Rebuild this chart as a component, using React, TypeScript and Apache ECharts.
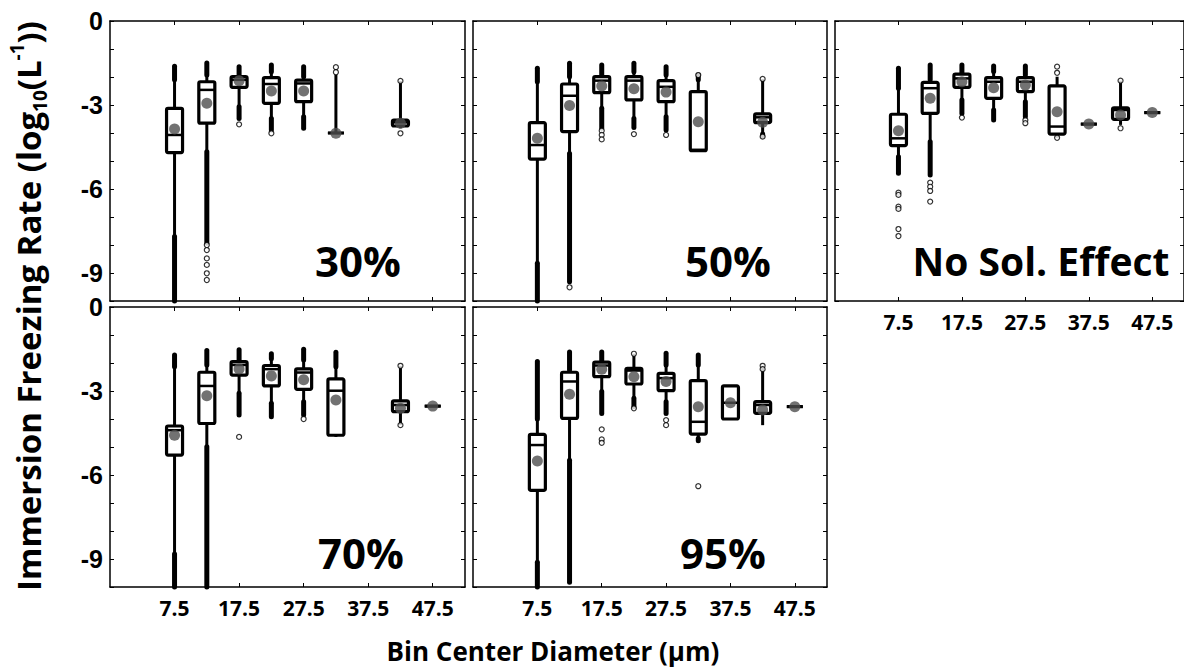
import React, { useEffect, useRef } from 'react';
import * as echarts from 'echarts';

// ---------- data ----------
const bins = [7.5, 12.5, 17.5, 22.5, 27.5, 32.5, 37.5, 42.5, 47.5];
const xTickLabels = [7.5, 17.5, 27.5, 37.5, 47.5];
const yTickLabels = [0, -3, -6, -9];
const panelLabels = ['30%', '50%', 'No Sol. Effect', '70%', '95%'];

// box stats per bin: [low whisker, q1, median, q3, high whisker] (null = no data)
const box30 = [
  [-7.7, -4.7, -4.07, -3.12, -2.1],
  [-4.67, -3.65, -2.46, -2.17, -1.93],
  [-3.06, -2.37, -2.1, -1.99, -1.99],
  [-3.48, -2.94, -2.25, -2.02, -1.81],
  [-3.42, -2.88, -2.23, -2.11, -1.99],
  [-4.02, -4.0, -4.0, -4.0, -1.9],
  null,
  [-3.83, -3.75, -3.62, -3.54, -2.14],
  null,
];
const mean30 = [-3.86, -2.94, -2.13, -2.5, -2.5, -4.01, null, -3.65, null];
const band30 = [
  [7.5, -10, -7.7], [7.5, -2.1, -1.62],
  [12.5, -7.94, -4.67], [12.5, -1.93, -1.5],
  [17.5, -3.48, -3.06], [17.5, -1.99, -1.63],
  [22.5, -3.89, -3.48], [22.5, -1.81, -1.57],
  [27.5, -3.83, -3.42], [27.5, -1.99, -1.63],
];
const outlier30 = [
  [12.5, -8.0], [12.5, -8.18], [12.5, -8.48], [12.5, -8.71], [12.5, -9.01], [12.5, -9.25],
  [17.5, -3.69], [22.5, -4.01], [32.5, -1.65], [32.5, -1.83], [42.5, -2.14], [42.5, -4.01],
];

const box50 = [
  [-8.65, -4.93, -4.43, -3.63, -2.17],
  [-4.73, -3.95, -2.67, -2.25, -1.99],
  [-3.12, -2.56, -2.13, -1.99, -1.93],
  [-3.48, -2.82, -2.13, -1.99, -1.81],
  [-3.42, -2.88, -2.35, -2.13, -1.93],
  [-4.67, -4.63, -4.6, -2.52, -1.93],
  null,
  [-4.04, -3.63, -3.44, -3.32, -2.07],
  null,
];
const mean50 = [-4.19, -3.02, -2.32, -2.42, -2.54, -3.6, null, -3.62, null];
const band50 = [
  [7.5, -10, -8.65], [7.5, -2.17, -1.69],
  [12.5, -9.31, -4.73], [12.5, -1.99, -1.51],
  [17.5, -3.83, -3.12], [17.5, -1.93, -1.57],
  [22.5, -3.8, -3.48], [22.5, -1.81, -1.51],
  [27.5, -3.89, -3.42], [27.5, -1.93, -1.63],
  [32.5, -2.1, -1.93],
  [42.5, -4.12, -4.04],
];
const outlier50 = [
  [12.5, -9.51], [17.5, -3.92], [17.5, -4.07], [17.5, -4.23], [22.5, -4.04], [27.5, -4.07],
  [32.5, -1.93], [42.5, -2.07], [42.5, -4.13],
];

const boxNoSol = [
  [-4.85, -4.45, -4.19, -3.33, -2.4],
  [-4.31, -3.3, -2.4, -2.19, -2.1],
  [-2.82, -2.37, -2.05, -1.9, -1.87],
  [-3.18, -2.76, -2.17, -2.02, -1.61],
  [-2.88, -2.52, -2.17, -2.02, -1.93],
  [-4.17, -4.04, -3.77, -2.32, -1.99],
  [-3.68, -3.68, -3.68, -3.68, -3.68],
  [-3.71, -3.51, -3.18, -3.1, -2.13],
  [-3.27, -3.27, -3.27, -3.27, -3.27],
];
const meanNoSol = [-3.92, -2.76, -2.17, -2.38, -2.29, -3.24, -3.68, -3.36, -3.27];
const bandNoSol = [
  [7.5, -5.44, -4.85], [7.5, -2.4, -1.69],
  [12.5, -5.5, -4.31], [12.5, -2.1, -1.57],
  [17.5, -3.3, -2.82], [17.5, -1.87, -1.57],
  [22.5, -3.54, -3.18], [22.5, -1.8, -1.61],
  [27.5, -3.42, -2.88], [27.5, -1.93, -1.61],
];
const outlierNoSol = [
  [7.5, -6.13], [7.5, -6.21], [7.5, -6.63], [7.5, -6.71], [7.5, -7.43], [7.5, -7.68],
  [12.5, -5.77], [12.5, -5.92], [12.5, -6.07], [12.5, -6.45],
  [17.5, -3.45], [27.5, -3.54], [27.5, -3.65],
  [32.5, -1.63], [32.5, -1.85], [32.5, -4.17], [42.5, -2.13], [42.5, -3.83],
];

const box70 = [
  [-8.82, -5.29, -4.4, -4.25, -2.13],
  [-4.99, -4.16, -2.82, -2.33, -2.07],
  [-3.08, -2.43, -2.07, -1.95, -1.89],
  [-3.44, -2.82, -2.22, -2.09, -1.67],
  [-3.38, -2.94, -2.34, -2.21, -1.89],
  [-4.64, -4.58, -2.99, -2.57, -2.13],
  null,
  [-4.22, -3.74, -3.5, -3.35, -2.1],
  [-3.54, -3.54, -3.54, -3.54, -3.54],
];
const mean70 = [-4.58, -3.17, -2.21, -2.46, -2.6, -3.32, null, -3.62, -3.54];
const band70 = [
  [7.5, -10, -8.82], [7.5, -2.13, -1.71],
  [12.5, -10, -4.99], [12.5, -2.07, -1.55],
  [17.5, -3.86, -3.08], [17.5, -1.89, -1.53],
  [22.5, -3.92, -3.44], [22.5, -1.85, -1.67],
  [27.5, -3.86, -3.38], [27.5, -1.89, -1.51],
  [32.5, -2.13, -1.62],
];
const outlier70 = [[17.5, -4.64], [27.5, -4.0], [42.5, -2.1], [42.5, -4.22]];

const box95 = [
  [-9.12, -6.55, -4.93, -4.55, -4.0],
  [-5.47, -3.98, -2.66, -2.33, -2.25],
  [-3.02, -2.49, -2.09, -1.97, -1.95],
  [-3.26, -2.75, -2.27, -2.19, -1.67],
  [-3.38, -2.99, -2.54, -2.37, -2.07],
  [-4.7, -4.54, -4.1, -2.63, -2.07],
  [-4.0, -4.0, -3.42, -2.82, -2.82],
  [-4.22, -3.8, -3.5, -3.38, -2.1],
  [-3.56, -3.56, -3.56, -3.56, -3.56],
];
const mean95 = [-5.5, -3.12, -2.22, -2.49, -2.66, -3.56, -3.42, -3.68, -3.56];
const band95 = [
  [7.5, -10, -9.12], [7.5, -4.0, -1.95],
  [12.5, -9.83, -5.47], [12.5, -2.25, -1.61],
  [17.5, -3.8, -3.02], [17.5, -1.95, -1.61],
  [22.5, -3.56, -3.26],
  [27.5, -3.8, -3.38], [27.5, -2.07, -1.65],
  [32.5, -2.07, -1.71], [32.5, -4.78, -4.7],
];
const outlier95 = [
  [17.5, -4.37], [17.5, -4.73], [17.5, -4.85], [22.5, -1.67], [22.5, -3.62],
  [27.5, -4.04], [27.5, -4.22], [32.5, -6.4], [42.5, -2.1], [42.5, -2.22],
];

const panelBoxes = [box30, box50, boxNoSol, box70, box95];
const panelMeans = [mean30, mean50, meanNoSol, mean70, mean95];
const panelBands = [band30, band50, bandNoSol, band70, band95];
const panelOutliers = [outlier30, outlier50, outlierNoSol, outlier70, outlier95];

// ---------- layout ----------
const grids = [
  { left: 110, top: 21, width: 355, height: 280 },
  { left: 473, top: 21, width: 354, height: 280 },
  { left: 835, top: 21, width: 355, height: 280 },
  { left: 110, top: 307, width: 355, height: 280 },
  { left: 473, top: 307, width: 354, height: 280 },
];
const showYLabels = [true, false, false, true, false];
const showXLabels = [false, false, true, true, true];
const labelPos = [
  { x: 358, y: 260, size: 42 },
  { x: 728, y: 260, size: 42 },
  { x: 1041, y: 260, size: 39 },
  { x: 361, y: 552, size: 42 },
  { x: 723, y: 552, size: 42 },
];

const SANS = '"Open Sans", "Noto Sans", sans-serif';

function buildOption() {
  const xAxis: any[] = [];
  const yAxis: any[] = [];
  const series: any[] = [];
  const line = { show: true, onZero: false, lineStyle: { color: '#000', width: 1.5 } };
  grids.forEach((g, i) => {
    ['bottom', 'top'].forEach((pos, k) => {
      xAxis.push({
        gridIndex: i,
        type: 'value',
        position: pos,
        min: -2.5,
        max: 52.5,
        axisLine: line,
        axisTick: { show: true, inside: true, length: 4, customValues: xTickLabels, lineStyle: { color: '#000', width: 1 } },
        axisLabel: {
          show: k === 0 && showXLabels[i],
          customValues: xTickLabels,
          formatter: (v: number) => v.toFixed(1),
          fontFamily: SANS,
          fontWeight: 'bold',
          fontSize: 21,
          color: '#000',
          margin: 10,
        },
        splitLine: { show: false },
      });
    });
    ['left', 'right'].forEach((pos, k) => {
      yAxis.push({
        gridIndex: i,
        type: 'value',
        position: pos,
        min: -10,
        max: 0,
        interval: 1,
        axisLine: line,
        axisTick: { show: true, inside: true, length: 4, lineStyle: { color: '#000', width: 1 } },
        axisLabel: {
          show: k === 0 && showYLabels[i],
          customValues: yTickLabels,
          formatter: (v: number) => String(v),
          fontFamily: '"Liberation Sans", Arial, sans-serif',
          fontWeight: 'bold',
          fontSize: 25,
          color: '#000',
          margin: 7,
        },
        splitLine: { show: false },
      });
    });

    const xi = 2 * i;
    const yi = 2 * i;
    // dense outlier bands
    series.push({
      type: 'custom',
      xAxisIndex: xi,
      yAxisIndex: yi,
      z: 2,
      data: panelBands[i],
      renderItem: (_p: any, api: any) => {
        const a = api.coord([api.value(0), api.value(1)]);
        const b = api.coord([api.value(0), api.value(2)]);
        return {
          type: 'line',
          shape: { x1: a[0], y1: a[1], x2: b[0], y2: b[1] },
          style: { stroke: '#000', lineWidth: 5, lineCap: 'round' },
        };
      },
    });
    // boxes
    const boxData: any[] = [];
    panelBoxes[i].forEach((b, j) => {
      if (b) boxData.push([bins[j], ...b]);
    });
    series.push({
      type: 'custom',
      xAxisIndex: xi,
      yAxisIndex: yi,
      z: 3,
      data: boxData,
      renderItem: (_p: any, api: any) => {
        const x = api.value(0);
        const lo = api.coord([x, api.value(1)]);
        const q1 = api.coord([x, api.value(2)]);
        const md = api.coord([x, api.value(3)]);
        const q3 = api.coord([x, api.value(4)]);
        const hi = api.coord([x, api.value(5)]);
        const cx = lo[0];
        const half = 8;
        return {
          type: 'group',
          children: [
            { type: 'line', shape: { x1: cx, y1: lo[1], x2: cx, y2: q1[1] }, style: { stroke: '#000', lineWidth: 3 } },
            { type: 'line', shape: { x1: cx, y1: q3[1], x2: cx, y2: hi[1] }, style: { stroke: '#000', lineWidth: 3 } },
            {
              type: 'rect',
              shape: { x: cx - half, y: q3[1], width: 2 * half, height: q1[1] - q3[1], r: 1.5 },
              style: { fill: '#fff', stroke: '#000', lineWidth: 3.2 },
            },
            { type: 'line', shape: { x1: cx - half, y1: md[1], x2: cx + half, y2: md[1] }, style: { stroke: '#000', lineWidth: 2.5 } },
          ],
        };
      },
    });
    // sparse outliers
    series.push({
      type: 'scatter',
      xAxisIndex: xi,
      yAxisIndex: yi,
      z: 4,
      symbol: 'circle',
      symbolSize: 5,
      itemStyle: { color: '#fff', borderColor: '#000', borderWidth: 1.2 },
      data: panelOutliers[i],
    });
    // means
    const meanData: any[] = [];
    panelMeans[i].forEach((m, j) => {
      if (m !== null) meanData.push([bins[j], m]);
    });
    series.push({
      type: 'scatter',
      xAxisIndex: xi,
      yAxisIndex: yi,
      z: 5,
      symbol: 'circle',
      symbolSize: 11,
      itemStyle: { color: '#4f4f4f' },
      data: meanData,
    });
  });

  const graphic: any[] = panelLabels.map((t, i) => ({
    type: 'text',
    x: labelPos[i].x,
    y: labelPos[i].y,
    z: 10,
    style: {
      text: t,
      fontFamily: SANS,
      fontWeight: 'bold',
      fontSize: labelPos[i].size,
      fill: '#000',
      align: 'center',
      verticalAlign: 'middle',
    },
  }));
  graphic.push({
    type: 'text',
    x: 553,
    y: 651,
    style: {
      text: 'Bin Center Diameter (μm)',
      fontFamily: SANS,
      fontWeight: 'bold',
      fontSize: 26,
      fill: '#000',
      align: 'center',
      verticalAlign: 'middle',
    },
  });
  graphic.push({
    type: 'text',
    x: 28,
    y: 306,
    rotation: Math.PI / 2,
    style: {
      text: '{a|Immersion Freezing Rate (log}{s|10}{a|(L}{p|-1}{a|))}',
      align: 'center',
      verticalAlign: 'middle',
      rich: {
        a: { fontFamily: SANS, fontWeight: 'bold', fontSize: 33, fill: '#000', lineHeight: 42 },
        s: { fontFamily: SANS, fontWeight: 'bold', fontSize: 19, fill: '#000', lineHeight: 22, verticalAlign: 'bottom' },
        p: { fontFamily: SANS, fontWeight: 'bold', fontSize: 19, fill: '#000', lineHeight: 22, verticalAlign: 'top' },
      },
    },
  });

  return {
    animation: false,
    backgroundColor: '#fff',
    grid: grids.map((g) => ({ ...g, containLabel: false })),
    xAxis,
    yAxis,
    series,
    graphic,
  };
}

export default function App() {
  const ref = useRef<HTMLDivElement>(null);
  useEffect(() => {
    if (!ref.current) return;
    const chart = echarts.init(ref.current, undefined, { renderer: 'svg' });
    chart.setOption(buildOption() as any);
    return () => chart.dispose();
  }, []);
  return (
    <div
      ref={ref}
      style={{ position: 'absolute', left: 0, top: 0, width: 1184, height: 669, overflow: 'hidden', background: '#fff' }}
    />
  );
}
